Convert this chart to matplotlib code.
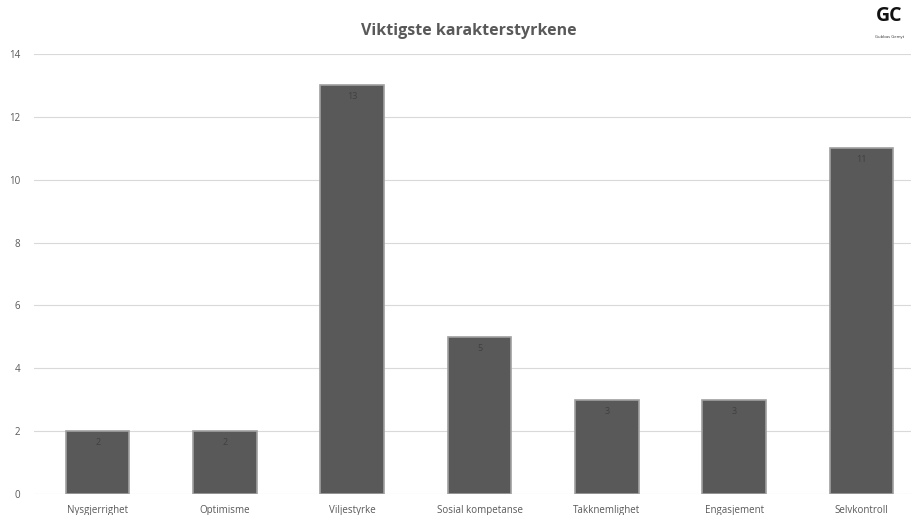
import matplotlib.pyplot as plt

categories = ["Nysgjerrighet", "Optimisme", "Viljestyrke", "Sosial kompetanse",
              "Takknemlighet", "Engasjement", "Selvkontroll"]
values = [2, 2, 13, 5, 3, 3, 11]
y_ticks = [0, 2, 4, 6, 8, 10, 12, 14]

plt.rcParams["font.family"] = ["Open Sans", "DejaVu Sans"]

fig = plt.figure(figsize=(9.12, 5.15), dpi=100)
ax = fig.add_axes([0.0373, 0.0408, 0.977, 0.8543])

x = range(len(categories))
bars = ax.bar(x, values, width=0.5, color="#595959", edgecolor="#a0a0a0",
              linewidth=1.2, zorder=3)
for b, v in zip(bars, values):
    ax.text(b.get_x() + b.get_width() / 2, v - 0.22, str(v), ha="center",
            va="top", fontsize=6.5, color="#404040", zorder=4)

ax.set_xlim(-0.5, len(categories) - 0.5)
ax.set_ylim(0, 14)
ax.set_yticks(y_ticks)
ax.set_xticks(list(x))
ax.set_xticklabels(categories)
ax.tick_params(axis="both", length=0, labelsize=7, colors="#595959")
ax.tick_params(axis="y", pad=10)
ax.tick_params(axis="x", pad=8)
ax.grid(axis="y", color="#d9d9d9", linewidth=0.8, zorder=0)
for s in ax.spines.values():
    s.set_visible(False)

fig.text(0.514, 0.94, "Viktigste karakterstyrkene", ha="center", va="center",
         fontsize=11.5, fontweight="bold", color="#595959")

# logo in the corner
fig.text(0.975, 0.968, "GC", ha="center", va="center", fontsize=14,
         fontweight="bold", color="#111111")
fig.text(0.975, 0.928, "Gubbas Gemyt", ha="center", va="center", fontsize=3,
         color="#333333")

fig.savefig("out.png", dpi=100)
plt.close(fig)
